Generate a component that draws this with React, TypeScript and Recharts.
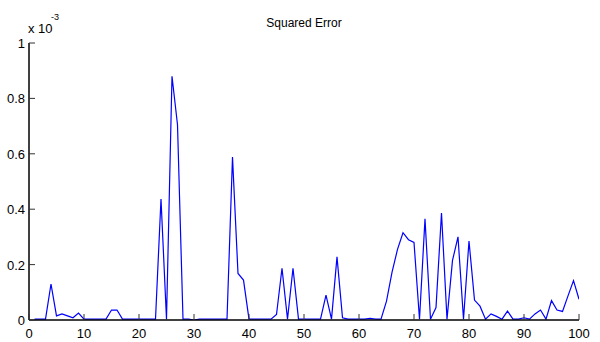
import React from "react";
import { LineChart, Line, XAxis, YAxis } from "recharts";

// squared error per step, in units of 1e-3
const sqErr = [
  0.003, 0.003, 0.003, 0.13, 0.015, 0.022, 0.015, 0.008, 0.025, 0.003,
  0.003, 0.003, 0.003, 0.003, 0.036, 0.036, 0.003, 0.003, 0.003, 0.003,
  0.003, 0.003, 0.003, 0.437, 0.003, 0.88, 0.705, 0.003, 0.003, 0.0,
  0.003, 0.003, 0.003, 0.003, 0.003, 0.003, 0.588, 0.168, 0.144, 0.003,
  0.003, 0.003, 0.003, 0.003, 0.02, 0.187, 0.003, 0.187, 0.003, 0.003,
  0.003, 0.003, 0.003, 0.09, 0.003, 0.228, 0.008, 0.003, 0.003, 0.003,
  0.003, 0.006, 0.003, 0.003, 0.068, 0.172, 0.255, 0.315, 0.29, 0.28,
  0.003, 0.365, 0.003, 0.045, 0.386, 0.003, 0.215, 0.3, 0.003, 0.285,
  0.072, 0.05, 0.003, 0.022, 0.013, 0.003, 0.032, 0.003, 0.003, 0.008,
  0.003, 0.022, 0.036, 0.003, 0.07, 0.036, 0.031, 0.087, 0.142, 0.075,
];
const steps = sqErr.map((_, i) => i + 1);

const xTicks = [0, 10, 20, 30, 40, 50, 60, 70, 80, 90, 100];
const yTicks = [0, 0.2, 0.4, 0.6, 0.8, 1];

const data = steps.map((step, i) => ({ step, err: sqErr[i] }));

const FONT = "'Liberation Sans', Arial, Helvetica, sans-serif";
const TICK_LEN = 6;
const TICK_COLOR = "#333";

const BottomTick = (props: any) => {
  const { x, y, payload } = props;
  return (
    <g>
      <line x1={x} y1={y} x2={x} y2={y - TICK_LEN} stroke={TICK_COLOR} strokeWidth={1} />
      <text x={x} y={y + 18} textAnchor="middle" fontSize={13} fontFamily={FONT} fill="#000">
        {payload.value}
      </text>
    </g>
  );
};

const TopTick = (props: any) => {
  const { x, y } = props;
  return <line x1={x} y1={y} x2={x} y2={y + TICK_LEN} stroke={TICK_COLOR} strokeWidth={1} />;
};

const LeftTick = (props: any) => {
  const { x, y, payload } = props;
  return (
    <g>
      <line x1={x} y1={y} x2={x + TICK_LEN} y2={y} stroke={TICK_COLOR} strokeWidth={1} />
      <text x={x - 4} y={y + 5} textAnchor="end" fontSize={13} fontFamily={FONT} fill="#000">
        {String(payload.value)}
      </text>
    </g>
  );
};

const RightTick = (props: any) => {
  const { x, y } = props;
  return <line x1={x} y1={y} x2={x - TICK_LEN} y2={y} stroke={TICK_COLOR} strokeWidth={1} />;
};

export default function App() {
  return (
    <div style={{ position: "absolute", left: 0, top: 0, width: 600, height: 342, background: "#fff" }}>
      <LineChart width={600} height={342} data={data} margin={{ top: 43, right: 21, left: 0, bottom: 0 }}>
        <XAxis
          dataKey="step"
          type="number"
          domain={[0, 100]}
          ticks={xTicks}
          allowDataOverflow
          height={22}
          tickSize={0}
          tickMargin={0}
          tickLine={false}
          axisLine={{ stroke: "#000", strokeWidth: 1.5 }}
          tick={<BottomTick />}
          interval={0}
        />
        <XAxis
          xAxisId="top"
          orientation="top"
          dataKey="step"
          type="number"
          domain={[0, 100]}
          ticks={xTicks}
          allowDataOverflow
          height={0}
          tickSize={0}
          tickMargin={0}
          tickLine={false}
          axisLine={{ stroke: "#000", strokeWidth: 1.5 }}
          tick={<TopTick />}
          interval={0}
        />
        <YAxis
          type="number"
          domain={[0, 1]}
          ticks={yTicks}
          allowDataOverflow
          width={29}
          tickSize={0}
          tickMargin={0}
          tickLine={false}
          axisLine={{ stroke: "#000", strokeWidth: 1.5 }}
          tick={<LeftTick />}
          interval={0}
        />
        <YAxis
          yAxisId="right"
          orientation="right"
          type="number"
          domain={[0, 1]}
          ticks={yTicks}
          allowDataOverflow
          width={0}
          tickSize={0}
          tickMargin={0}
          tickLine={false}
          axisLine={{ stroke: "#000", strokeWidth: 1.5 }}
          tick={<RightTick />}
          interval={0}
        />
        <Line
          type="linear"
          dataKey="err"
          stroke="#0000ff"
          strokeWidth={1.2}
          dot={false}
          isAnimationActive={false}
        />
      </LineChart>
      <svg
        width={600}
        height={342}
        style={{ position: "absolute", left: 0, top: 0, pointerEvents: "none" }}
      >
        <text x={304} y={27} textAnchor="middle" fontSize={12} fontFamily={FONT} fill="#000">
          Squared Error
        </text>
        <text x={28} y={33} fontSize={13} fontFamily={FONT} fill="#000">
          x 10
        </text>
        <text x={51} y={20} fontSize={9} fontFamily={FONT} fill="#000">
          -3
        </text>
      </svg>
    </div>
  );
}
